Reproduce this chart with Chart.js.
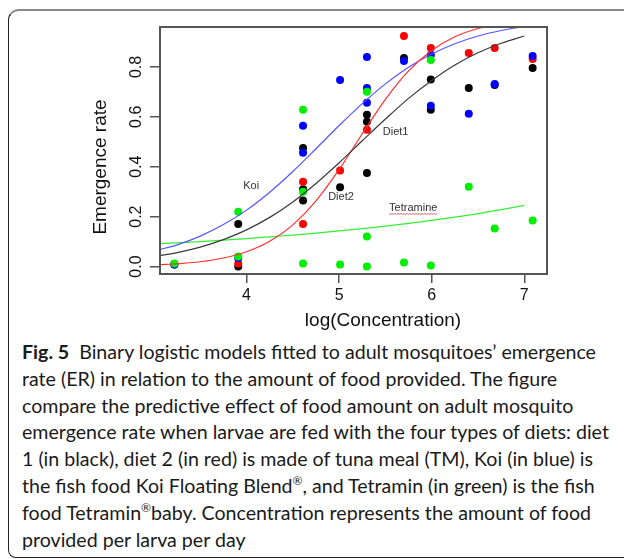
<!DOCTYPE html>
<html>
<head>
<meta charset="utf-8">
<script src="https://cdn.jsdelivr.net/npm/chart.js@4.4.1/dist/chart.umd.min.js"></script>
<style>
  html, body { margin: 0; padding: 0; background: #fff; width: 624px; height: 559px; overflow: hidden; }
  #frame { position: absolute; left: 8px; top: 9px; width: 700px; height: 546px;
           border-top: 2px solid #8a8a8a; border-left: 1.5px solid #222; border-top-left-radius: 11px;
           border-bottom-left-radius: 8px; border-bottom: 1.5px solid #222; }
  #chartBox { position: absolute; left: 0; top: 0; width: 624px; height: 335px; }
  #caption { position: absolute; left: 22px; top: 339px; font-family: Lato, "Open Sans", sans-serif;
             font-size: 19.6px; line-height: 26.8px; color: #1a1a1a; white-space: nowrap; }
  #caption b { font-weight: 700; }
  sup { font-size: 12px; line-height: 0; vertical-align: 8px; }
</style>
</head>
<body>
<div id="frame"></div>
<div id="chartBox"><canvas id="c" width="624" height="335"></canvas></div>
<div id="caption">
<b>Fig. 5</b>&nbsp; Binary logistic models fitted to adult mosquitoes’ emergence<br>
rate (ER) in relation to the amount of food provided. The figure<br>
compare the predictive effect of food amount on adult mosquito<br>
emergence rate when larvae are fed with the four types of diets: diet<br>
1 (in black), diet 2 (in red) is made of tuna meal (TM), Koi (in blue) is<br>
the fish food Koi Floating Blend<sup>®</sup>, and Tetramin (in green) is the fish<br>
food Tetramin<sup>®</sup>baby. Concentration represents the amount of food<br>
provided per larva per day
</div>
<script>
// ---- tick labels / titles ----
const xTickValues = [4, 5, 6, 7];
const yTickValues = [0, 0.2, 0.4, 0.6, 0.8];
const xTitle = 'log(Concentration)';
const yTitle = 'Emergence rate';

// ---- observed points (log concentration, emergence rate) ----
const diet1X = [3.22, 3.91, 3.91, 4.61, 4.61, 4.61, 5.01, 5.30, 5.30, 5.30, 5.70, 5.99, 5.99, 6.40, 6.68, 7.09];
const diet1Y = [0.008, 0.00, 0.17, 0.475, 0.31, 0.265, 0.318, 0.608, 0.58, 0.375, 0.836, 0.75, 0.628, 0.716, 0.728, 0.796];

const diet2X = [3.22, 3.91, 4.61, 4.61, 5.01, 5.30, 5.70, 5.99, 6.40, 6.68, 7.09];
const diet2Y = [0.01, 0.012, 0.34, 0.17, 0.385, 0.548, 0.924, 0.876, 0.856, 0.876, 0.832];

const koiX = [3.22, 3.91, 4.61, 4.61, 5.01, 5.30, 5.30, 5.30, 5.70, 5.99, 5.99, 6.40, 6.68, 7.09];
const koiY = [0.008, 0.034, 0.564, 0.456, 0.748, 0.84, 0.716, 0.656, 0.824, 0.848, 0.644, 0.612, 0.732, 0.844];

const tetraX = [3.22, 3.91, 3.91, 4.61, 4.61, 4.61, 5.01, 5.30, 5.30, 5.30, 5.70, 5.99, 5.99, 6.40, 6.68, 7.09];
const tetraY = [0.012, 0.22, 0.04, 0.628, 0.30, 0.012, 0.008, 0.70, 0.12, 0.0, 0.016, 0.828, 0.004, 0.32, 0.152, 0.184];

// ---- fitted curves ----
const curveX      = [3.065, 3.25, 3.5, 3.75, 4.0, 4.25, 4.5, 4.75, 5.0, 5.25, 5.5, 5.75, 6.0, 6.25, 6.5, 6.75, 7.0];
const diet1Curve  = [0.044, 0.056, 0.078, 0.108, 0.147, 0.197, 0.259, 0.333, 0.416, 0.504, 0.591, 0.674, 0.746, 0.808, 0.857, 0.895, 0.924];
const diet2Curve  = [0.007, 0.011, 0.019, 0.034, 0.059, 0.101, 0.167, 0.263, 0.389, 0.532, 0.670, 0.784, 0.866, 0.921, 0.954, 0.974, 0.985];
const koiCurve    = [0.068, 0.087, 0.122, 0.168, 0.226, 0.298, 0.381, 0.472, 0.565, 0.653, 0.732, 0.799, 0.852, 0.893, 0.924, 0.946, 0.962];
const tetraCurve  = [0.092, 0.095, 0.100, 0.106, 0.112, 0.119, 0.126, 0.134, 0.143, 0.152, 0.162, 0.173, 0.185, 0.198, 0.212, 0.228, 0.245];

// ---- curve labels ----
const curveLabelText = ['Koi', 'Diet2', 'Diet1', 'Tetramine'];
const curveLabelX    = [4.05, 5.02, 5.61, 5.80];
const curveLabelY    = [0.324, 0.28, 0.54, 0.236];

const pts = (xs, ys) => xs.map((x, i) => ({ x: x, y: ys[i] }));

function pointSet(label, xs, ys, color, order) {
  return { type: 'scatter', label, data: pts(xs, ys), order,
           backgroundColor: color, borderColor: color, borderWidth: 0,
           pointRadius: 4, pointHoverRadius: 4 };
}
function curveSet(label, ys, color, order) {
  return { type: 'line', label, data: pts(curveX, ys), order,
           borderColor: color, borderWidth: 1.2, pointRadius: 0, fill: false,
           cubicInterpolationMode: 'monotone' };
}

const overlay = {
  id: 'overlay',
  afterDraw(chart) {
    const { ctx, chartArea: a, scales: { x, y } } = chart;
    ctx.save();
    ctx.strokeStyle = '#555';
    ctx.lineWidth = 2;
    ctx.strokeRect(a.left, a.top, a.right - a.left, a.bottom - a.top);

    ctx.fillStyle = '#111';
    ctx.font = '19px "Liberation Sans", Arial, sans-serif';
    ctx.textAlign = 'center';
    ctx.textBaseline = 'middle';
    ctx.fillText(xTitle, 383, 321);
    ctx.save();
    ctx.translate(101, 167);
    ctx.rotate(-Math.PI / 2);
    ctx.fillText(yTitle, 0, 0);
    ctx.restore();

    ctx.font = '11px "Liberation Sans", Arial, sans-serif';
    ctx.fillStyle = '#333';
    curveLabelText.forEach((t, i) => {
      ctx.fillText(t, x.getPixelForValue(curveLabelX[i]), y.getPixelForValue(curveLabelY[i]));
    });
    // spell-check squiggle under "Tetramine"
    const tx = x.getPixelForValue(curveLabelX[3]);
    const ty = y.getPixelForValue(curveLabelY[3]) + 6;
    const w = ctx.measureText(curveLabelText[3]).width;
    ctx.strokeStyle = '#e04040';
    ctx.lineWidth = 0.8;
    ctx.beginPath();
    for (let px = 0; px <= w; px += 1.5) {
      const yy = ty + ((Math.round(px / 1.5) % 2) ? 0.8 : -0.2);
      if (px === 0) ctx.moveTo(tx - w / 2 + px, yy); else ctx.lineTo(tx - w / 2 + px, yy);
    }
    ctx.stroke();
    ctx.restore();
  }
};

new Chart(document.getElementById('c'), {
  type: 'scatter',
  data: {
    datasets: [
      curveSet('Diet1 fit', diet1Curve, '#3a3a3a', -4),
      curveSet('Diet2 fit', diet2Curve, '#ff3030', -3),
      curveSet('Koi fit', koiCurve, '#5555ff', -2),
      curveSet('Tetramine fit', tetraCurve, '#33ee33', -1),
      pointSet('Diet1', diet1X, diet1Y, '#000000', 4),
      pointSet('Diet2', diet2X, diet2Y, '#ff0000', 3),
      pointSet('Koi', koiX, koiY, '#0000ff', 2),
      pointSet('Tetramine', tetraX, tetraY, '#00ee00', 1)
    ]
  },
  options: {
    responsive: false,
    devicePixelRatio: 1,
    animation: false,
    events: [],
    layout: { padding: { left: 100, right: 77, top: 27, bottom: 21 } },
    plugins: { legend: { display: false }, tooltip: { enabled: false } },
    scales: {
      x: {
        type: 'linear', min: 3.065, max: 7.245,
        afterBuildTicks: s => { s.ticks = xTickValues.map(v => ({ value: v })); },
        afterFit: s => { s.height = 40; },
        border: { display: false },
        grid: { drawOnChartArea: false, drawTicks: true, tickLength: 9, color: '#555', lineWidth: 1.5 },
        ticks: { color: '#111', font: { family: '"Liberation Sans", Arial, sans-serif', size: 16 },
                 padding: 3, maxRotation: 0, callback: v => String(v) }
      },
      y: {
        type: 'linear', min: -0.03, max: 0.96,
        afterBuildTicks: s => { s.ticks = yTickValues.map(v => ({ value: v })); },
        afterFit: s => { s.width = 60; },
        border: { display: false },
        grid: { drawOnChartArea: false, drawTicks: true, tickLength: 10, color: '#555', lineWidth: 1.5 },
        ticks: { color: '#111', font: { family: '"Liberation Sans", Arial, sans-serif', size: 16 },
                 padding: 2, minRotation: 90, maxRotation: 90, crossAlign: 'center',
                 callback: v => Number(v).toFixed(1) }
      }
    }
  },
  plugins: [overlay]
});
</script>
</body>
</html>
